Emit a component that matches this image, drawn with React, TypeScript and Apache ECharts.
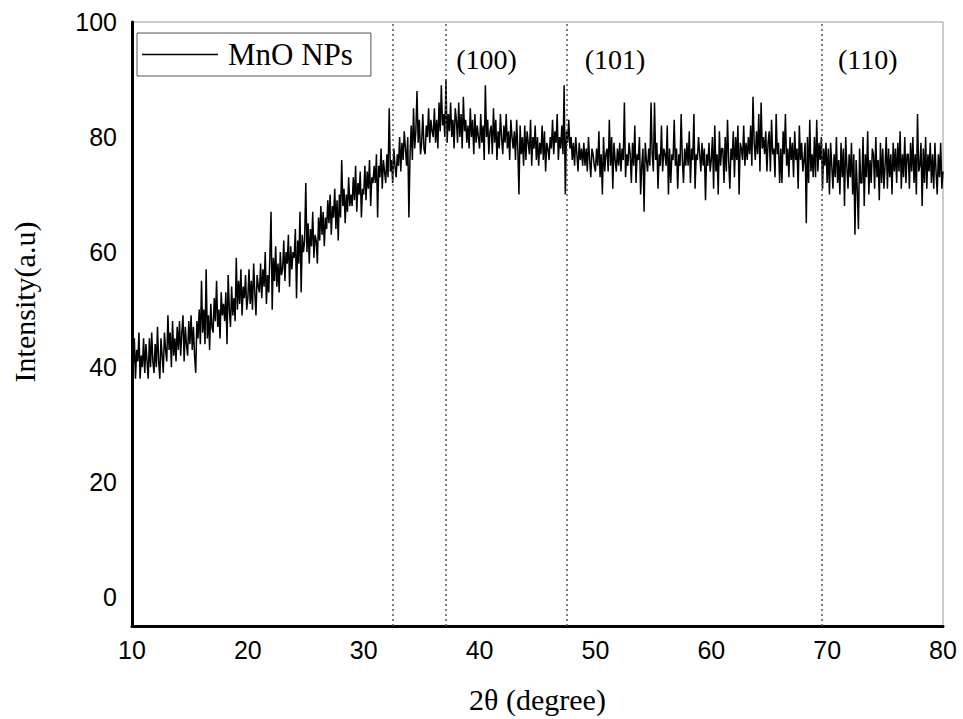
import React, { useEffect, useRef } from "react";
import * as echarts from "echarts";

// 2θ grid: 10.0 to 80.0 in 0.1° steps; intensity rows, one row per degree (x.0 … x.9)
const X_START = 10;
const X_STEP = 0.1;
const intensityRows: number[][] = [
  [48, 40, 45, 38, 43, 41, 46, 38, 42, 40],
  [45, 39, 44, 41, 38, 45, 40, 46, 41, 39],
  [44, 40, 47, 41, 38, 45, 42, 39, 46, 43],
  [41, 49, 43, 46, 40, 48, 42, 45, 41, 47],
  [43, 48, 42, 46, 49, 41, 47, 44, 42, 48],
  [44, 49, 43, 47, 42, 39, 48, 45, 50, 44],
  [55, 46, 50, 44, 57, 45, 49, 43, 51, 47],
  [46, 52, 48, 55, 47, 50, 45, 53, 49, 51],
  [48, 53, 44, 56, 50, 47, 54, 49, 52, 48],
  [59, 50, 55, 51, 57, 49, 54, 52, 56, 50],
  [52, 57, 51, 55, 50, 58, 53, 49, 56, 54],
  [53, 58, 52, 57, 54, 60, 51, 56, 53, 59],
  [67, 50, 59, 55, 61, 54, 58, 53, 60, 56],
  [57, 62, 55, 60, 58, 63, 54, 61, 57, 60],
  [59, 64, 52, 62, 58, 67, 53, 63, 60, 62],
  [72, 60, 65, 58, 64, 61, 67, 59, 63, 62],
  [58, 66, 62, 68, 63, 67, 61, 66, 64, 69],
  [65, 70, 63, 68, 66, 71, 64, 69, 62, 70],
  [66, 76, 68, 71, 65, 70, 67, 73, 68, 70],
  [68, 73, 69, 75, 67, 72, 70, 74, 66, 71],
  [70, 75, 69, 74, 71, 76, 68, 73, 72, 75],
  [72, 77, 66, 75, 73, 78, 71, 76, 74, 72],
  [77, 73, 85, 74, 76, 72, 78, 75, 73, 77],
  [75, 80, 74, 79, 76, 81, 78, 75, 80, 66],
  [77, 82, 76, 85, 78, 81, 88, 79, 83, 77],
  [79, 84, 78, 77, 82, 80, 85, 79, 83, 81],
  [80, 85, 79, 83, 78, 86, 81, 89, 82, 84],
  [80, 90, 79, 84, 81, 86, 80, 83, 78, 85],
  [83, 79, 86, 80, 84, 78, 87, 81, 83, 79],
  [82, 78, 85, 80, 83, 77, 84, 79, 82, 80],
  [78, 84, 79, 82, 76, 89, 80, 83, 77, 81],
  [82, 77, 85, 79, 83, 76, 81, 78, 84, 80],
  [77, 82, 79, 84, 78, 81, 76, 83, 80, 78],
  [81, 76, 83, 78, 70, 82, 77, 80, 75, 82],
  [76, 81, 79, 77, 83, 75, 80, 78, 82, 76],
  [80, 75, 79, 77, 82, 76, 81, 74, 79, 78],
  [76, 80, 78, 83, 77, 81, 79, 84, 76, 80],
  [78, 82, 77, 89, 70, 81, 79, 83, 78, 80],
  [76, 79, 75, 80, 77, 74, 79, 76, 78, 75],
  [79, 75, 78, 74, 80, 76, 73, 78, 77, 75],
  [74, 78, 75, 81, 73, 77, 70, 80, 74, 77],
  [78, 74, 83, 75, 80, 71, 79, 76, 74, 78],
  [75, 79, 74, 78, 76, 86, 73, 77, 75, 79],
  [77, 72, 79, 75, 82, 72, 77, 76, 80, 70],
  [75, 78, 67, 79, 76, 74, 78, 75, 86, 77],
  [74, 86, 76, 79, 71, 77, 75, 82, 74, 78],
  [77, 75, 82, 70, 78, 72, 77, 76, 83, 75],
  [78, 71, 77, 75, 84, 76, 72, 78, 75, 79],
  [75, 81, 72, 78, 76, 84, 71, 77, 76, 80],
  [77, 74, 79, 75, 78, 69, 77, 75, 79, 74],
  [76, 80, 71, 82, 74, 77, 70, 81, 75, 78],
  [78, 72, 80, 74, 83, 76, 71, 78, 76, 81],
  [73, 80, 76, 82, 70, 79, 78, 76, 82, 75],
  [79, 76, 80, 77, 82, 75, 87, 79, 76, 81],
  [77, 84, 74, 86, 78, 80, 77, 81, 74, 79],
  [81, 74, 83, 77, 78, 73, 84, 77, 79, 72],
  [78, 72, 81, 77, 84, 75, 78, 73, 80, 76],
  [79, 73, 81, 76, 78, 71, 82, 76, 79, 74],
  [76, 79, 65, 80, 72, 83, 74, 77, 73, 80],
  [73, 83, 74, 79, 76, 80, 71, 78, 75, 79],
  [72, 78, 70, 79, 75, 71, 77, 73, 80, 72],
  [76, 70, 79, 73, 78, 68, 80, 75, 71, 77],
  [73, 79, 70, 77, 63, 76, 71, 64, 78, 72],
  [72, 80, 68, 77, 73, 81, 70, 76, 72, 78],
  [77, 71, 80, 73, 76, 69, 79, 72, 78, 71],
  [75, 80, 71, 78, 73, 77, 70, 79, 74, 78],
  [72, 79, 74, 81, 71, 77, 73, 80, 72, 77],
  [77, 71, 79, 74, 80, 72, 77, 70, 84, 74],
  [75, 79, 68, 78, 72, 80, 71, 77, 74, 79],
  [72, 77, 71, 79, 74, 70, 77, 73, 79, 71],
  [74],
];

const seriesName = "MnO NPs";
const peakPositions = [32.5, 37.1, 47.5, 69.5];
const peakLabels = ["(100)", "(101)", "(110)"];
const peakLabelX = [40.6, 51.7, 73.5];
const peakLabelY = [93.5, 93.5, 93.5];
const yTickLabels = [0, 20, 40, 60, 80, 100];

const serif = "'Liberation Serif', 'Times New Roman', Times, serif";
const sans = "'Liberation Sans', Arial, Helvetica, sans-serif";

export default function App() {
  const ref = useRef<HTMLDivElement>(null);

  useEffect(() => {
    if (!ref.current) return;
    const chart = echarts.init(ref.current, undefined, { renderer: "svg" });

    const values = intensityRows.flat();
    const lineData = values.map((v, i) => [
      Math.round((X_START + i * X_STEP) * 10) / 10,
      v,
    ]);
    const labelData = peakLabels.map((name, i) => ({
      name,
      value: [peakLabelX[i], peakLabelY[i]],
    }));

    chart.setOption({
      animation: false,
      backgroundColor: "#ffffff",
      grid: {
        left: 132,
        right: 20,
        top: 22,
        bottom: 92,
        show: true,
        borderColor: "#9a9a9a",
        borderWidth: 1,
      },
      legend: {
        data: [seriesName],
        left: 137,
        top: 33,
        padding: [6, 18, 6, 5],
        icon: "rect",
        itemWidth: 76,
        itemHeight: 1.3,
        itemGap: 0,
        borderColor: "#555555",
        borderWidth: 1,
        backgroundColor: "#ffffff",
        textStyle: {
          fontFamily: serif,
          fontSize: 31,
          color: "#000",
          padding: [0, 0, 0, 5],
        },
      },
      xAxis: {
        type: "value",
        min: 10,
        max: 80,
        interval: 10,
        name: "2θ (degree)",
        nameLocation: "middle",
        nameGap: 58,
        nameTextStyle: { fontFamily: serif, fontSize: 30, color: "#000" },
        axisLine: { onZero: false, lineStyle: { color: "#000", width: 3 } },
        axisTick: { show: false },
        splitLine: { show: false },
        axisLabel: { fontFamily: sans, fontSize: 25, color: "#000", margin: 11 },
      },
      yAxis: {
        type: "value",
        min: -5,
        max: 100,
        name: "Intensity(a.u)",
        nameLocation: "middle",
        nameGap: 93,
        nameTextStyle: {
          fontFamily: serif,
          fontSize: 30,
          color: "#000",
          padding: [0, 0, 0, 44],
        },
        axisLine: { show: true, onZero: false, lineStyle: { color: "#000", width: 3 } },
        axisTick: { show: false },
        splitLine: { show: false },
        axisLabel: {
          fontFamily: sans,
          fontSize: 25,
          color: "#000",
          margin: 15,
          customValues: yTickLabels,
        },
      },
      series: [
        {
          name: seriesName,
          type: "line",
          data: lineData,
          symbol: "none",
          showSymbol: false,
          color: "#000",
          lineStyle: { color: "#000", width: 1.5 },
          markLine: {
            silent: true,
            symbol: ["none", "none"],
            label: { show: false },
            lineStyle: { type: [2, 3], color: "#555", width: 1.5 },
            data: peakPositions.map((p) => ({ xAxis: p })),
          },
        },
        {
          name: "peaks",
          type: "scatter",
          data: labelData,
          symbolSize: 0,
          silent: true,
          itemStyle: { opacity: 1 },
          label: {
            show: true,
            position: "inside",
            formatter: "{b}",
            fontFamily: serif,
            fontSize: 28,
            color: "#000",
            opacity: 1,
          },
        },
      ],
    });

    return () => chart.dispose();
  }, []);

  return (
    <div
      ref={ref}
      style={{ position: "fixed", left: 0, top: 0, width: 963, height: 719 }}
    />
  );
}
